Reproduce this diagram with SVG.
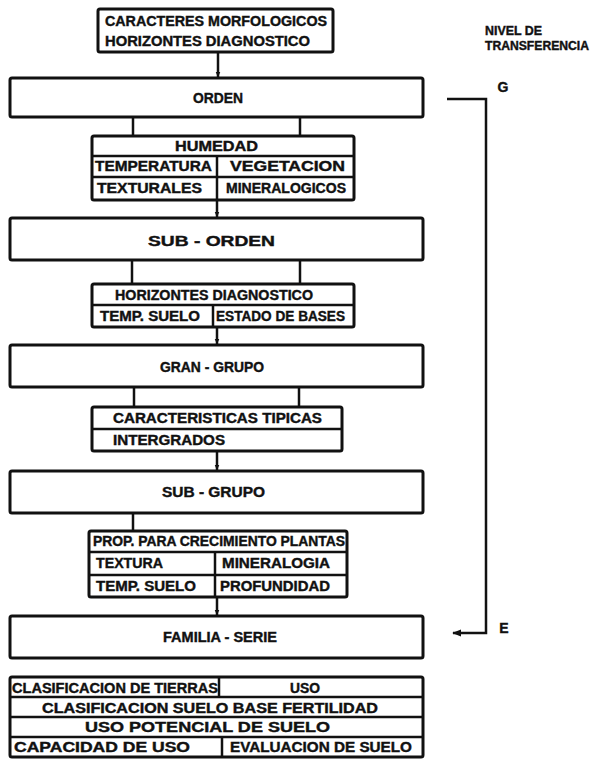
<svg xmlns="http://www.w3.org/2000/svg" width="596" height="761" viewBox="0 0 596 761">
  <defs>
    <marker id="tip" viewBox="0 0 10 10" refX="9" refY="5" markerWidth="6" markerHeight="6" markerUnits="userSpaceOnUse" orient="auto">
      <path d="M0,1 L10,5 L0,9 z" fill="#111"/>
    </marker>
    <marker id="tip-big" viewBox="0 0 10 10" refX="9" refY="5" markerWidth="9" markerHeight="9" markerUnits="userSpaceOnUse" orient="auto">
      <path d="M0,1 L10,5 L0,9 z" fill="#111"/>
    </marker>
  </defs>
  <style>
    .box{fill:#fff;stroke:#111;stroke-width:3}
    .rule{stroke:#111;stroke-width:2.5;fill:none}
    .conn{stroke:#111;stroke-width:2.5;fill:none}
    .arr{marker-end:url(#tip)}
    text{font-family:"Liberation Sans",Arial,sans-serif;font-weight:bold;font-size:14px;fill:#111;stroke:#111;stroke-width:0.4}
    .c{text-anchor:middle}
    .side{font-size:12.5px}
  </style>
  <rect width="596" height="761" fill="#fff"/>

  <!-- connectors -->
  <g id="connectors">
    <line class="conn arr" x1="218" y1="52" x2="218" y2="77"/>
    <line class="conn" x1="133" y1="117" x2="133" y2="136"/>
    <line class="conn" x1="300" y1="117" x2="300" y2="136"/>
    <line class="conn arr" x1="217" y1="200" x2="217" y2="217"/>
    <line class="conn" x1="132" y1="260" x2="132" y2="284"/>
    <line class="conn" x1="300" y1="260" x2="300" y2="284"/>
    <line class="conn arr" x1="217" y1="327" x2="217" y2="344"/>
    <line class="conn" x1="134" y1="387" x2="134" y2="407"/>
    <line class="conn" x1="299" y1="387" x2="299" y2="407"/>
    <line class="conn arr" x1="217" y1="451" x2="217" y2="470"/>
    <line class="conn" x1="133" y1="513" x2="133" y2="531"/>
    <line class="conn arr" x1="217" y1="597" x2="217" y2="615"/>
    <path class="conn" d="M447,99 H486 V633 H453" marker-end="url(#tip-big)"/>
  </g>

  <!-- level of transfer labels -->
  <g id="nivel">
    <text class="side" x="485" y="35" textLength="57" lengthAdjust="spacingAndGlyphs">NIVEL DE</text>
    <text class="side" x="485" y="50" textLength="104" lengthAdjust="spacingAndGlyphs">TRANSFERENCIA</text>
    <text class="c" x="503" y="92">G</text>
    <text class="c" x="504" y="633">E</text>
  </g>

  <g id="criterios-orden">
    <rect class="box" x="98" y="9" width="235" height="43" rx="2"/>
    <text x="105" y="26" textLength="222" lengthAdjust="spacingAndGlyphs">CARACTERES MORFOLOGICOS</text>
    <text x="105" y="46" textLength="205" lengthAdjust="spacingAndGlyphs">HORIZONTES DIAGNOSTICO</text>
  </g>

  <g id="orden">
    <rect class="box" x="10" y="78" width="413" height="39" rx="2"/>
    <text x="193" y="103" textLength="50" lengthAdjust="spacingAndGlyphs">ORDEN</text>
  </g>

  <g id="criterios-suborden">
    <rect class="box" x="92" y="136" width="262" height="64" rx="2"/>
    <line class="rule" x1="92" y1="156" x2="354" y2="156"/>
    <line class="rule" x1="92" y1="177" x2="354" y2="177"/>
    <line class="rule" x1="217" y1="156" x2="217" y2="200"/>
    <text x="175" y="151" textLength="83" lengthAdjust="spacingAndGlyphs">HUMEDAD</text>
    <text x="95" y="171" textLength="117" lengthAdjust="spacingAndGlyphs">TEMPERATURA</text>
    <text x="230" y="171" textLength="115" lengthAdjust="spacingAndGlyphs">VEGETACION</text>
    <text x="97" y="193" textLength="105" lengthAdjust="spacingAndGlyphs">TEXTURALES</text>
    <text x="226" y="193" textLength="120" lengthAdjust="spacingAndGlyphs">MINERALOGICOS</text>
  </g>

  <g id="suborden">
    <rect class="box" x="10" y="218" width="413" height="42" rx="2"/>
    <text x="148" y="246" textLength="127" lengthAdjust="spacingAndGlyphs">SUB - ORDEN</text>
  </g>

  <g id="criterios-grangrupo">
    <rect class="box" x="92" y="284" width="262" height="43" rx="2"/>
    <line class="rule" x1="92" y1="305" x2="354" y2="305"/>
    <line class="rule" x1="213" y1="305" x2="213" y2="327"/>
    <text x="115" y="300" textLength="198" lengthAdjust="spacingAndGlyphs">HORIZONTES DIAGNOSTICO</text>
    <text x="100" y="321" textLength="100" lengthAdjust="spacingAndGlyphs">TEMP. SUELO</text>
    <text x="216" y="321" textLength="129" lengthAdjust="spacingAndGlyphs">ESTADO DE BASES</text>
  </g>

  <g id="grangrupo">
    <rect class="box" x="10" y="345" width="413" height="42" rx="2"/>
    <text x="160" y="372" textLength="104" lengthAdjust="spacingAndGlyphs">GRAN - GRUPO</text>
  </g>

  <g id="criterios-subgrupo">
    <rect class="box" x="92" y="407" width="250" height="44" rx="2"/>
    <line class="rule" x1="92" y1="429" x2="342" y2="429"/>
    <text x="113" y="423" textLength="209" lengthAdjust="spacingAndGlyphs">CARACTERISTICAS TIPICAS</text>
    <text x="113" y="445" textLength="112" lengthAdjust="spacingAndGlyphs">INTERGRADOS</text>
  </g>

  <g id="subgrupo">
    <rect class="box" x="10" y="471" width="413" height="42" rx="2"/>
    <text x="162" y="497" textLength="103" lengthAdjust="spacingAndGlyphs">SUB - GRUPO</text>
  </g>

  <g id="criterios-familia">
    <rect class="box" x="89" y="531" width="258" height="66" rx="2"/>
    <line class="rule" x1="89" y1="552" x2="347" y2="552"/>
    <line class="rule" x1="89" y1="575" x2="347" y2="575"/>
    <line class="rule" x1="215" y1="552" x2="215" y2="597"/>
    <text x="93" y="546" textLength="252" lengthAdjust="spacingAndGlyphs">PROP. PARA CRECIMIENTO PLANTAS</text>
    <text x="96" y="568" textLength="67" lengthAdjust="spacingAndGlyphs">TEXTURA</text>
    <text x="222" y="568" textLength="108" lengthAdjust="spacingAndGlyphs">MINERALOGIA</text>
    <text x="96" y="591" textLength="100" lengthAdjust="spacingAndGlyphs">TEMP. SUELO</text>
    <text x="220" y="591" textLength="110" lengthAdjust="spacingAndGlyphs">PROFUNDIDAD</text>
  </g>

  <g id="familia-serie">
    <rect class="box" x="10" y="616" width="413" height="42" rx="2"/>
    <text x="163" y="642" textLength="114" lengthAdjust="spacingAndGlyphs">FAMILIA - SERIE</text>
  </g>

  <g id="aplicaciones">
    <rect class="box" x="10" y="677" width="413" height="80" rx="2"/>
    <line class="rule" x1="10" y1="697" x2="423" y2="697"/>
    <line class="rule" x1="10" y1="717" x2="423" y2="717"/>
    <line class="rule" x1="10" y1="737" x2="423" y2="737"/>
    <line class="rule" x1="219" y1="677" x2="219" y2="697"/>
    <line class="rule" x1="222" y1="737" x2="222" y2="757"/>
    <text x="12" y="693" textLength="206" lengthAdjust="spacingAndGlyphs">CLASIFICACION DE TIERRAS</text>
    <text x="290" y="693" textLength="30" lengthAdjust="spacingAndGlyphs">USO</text>
    <text x="42" y="713" textLength="336" lengthAdjust="spacingAndGlyphs">CLASIFICACION SUELO BASE FERTILIDAD</text>
    <text x="85" y="732" textLength="245" lengthAdjust="spacingAndGlyphs">USO POTENCIAL DE SUELO</text>
    <text x="14" y="752" textLength="176" lengthAdjust="spacingAndGlyphs">CAPACIDAD DE USO</text>
    <text x="230" y="752" textLength="182" lengthAdjust="spacingAndGlyphs">EVALUACION DE SUELO</text>
  </g>
</svg>
